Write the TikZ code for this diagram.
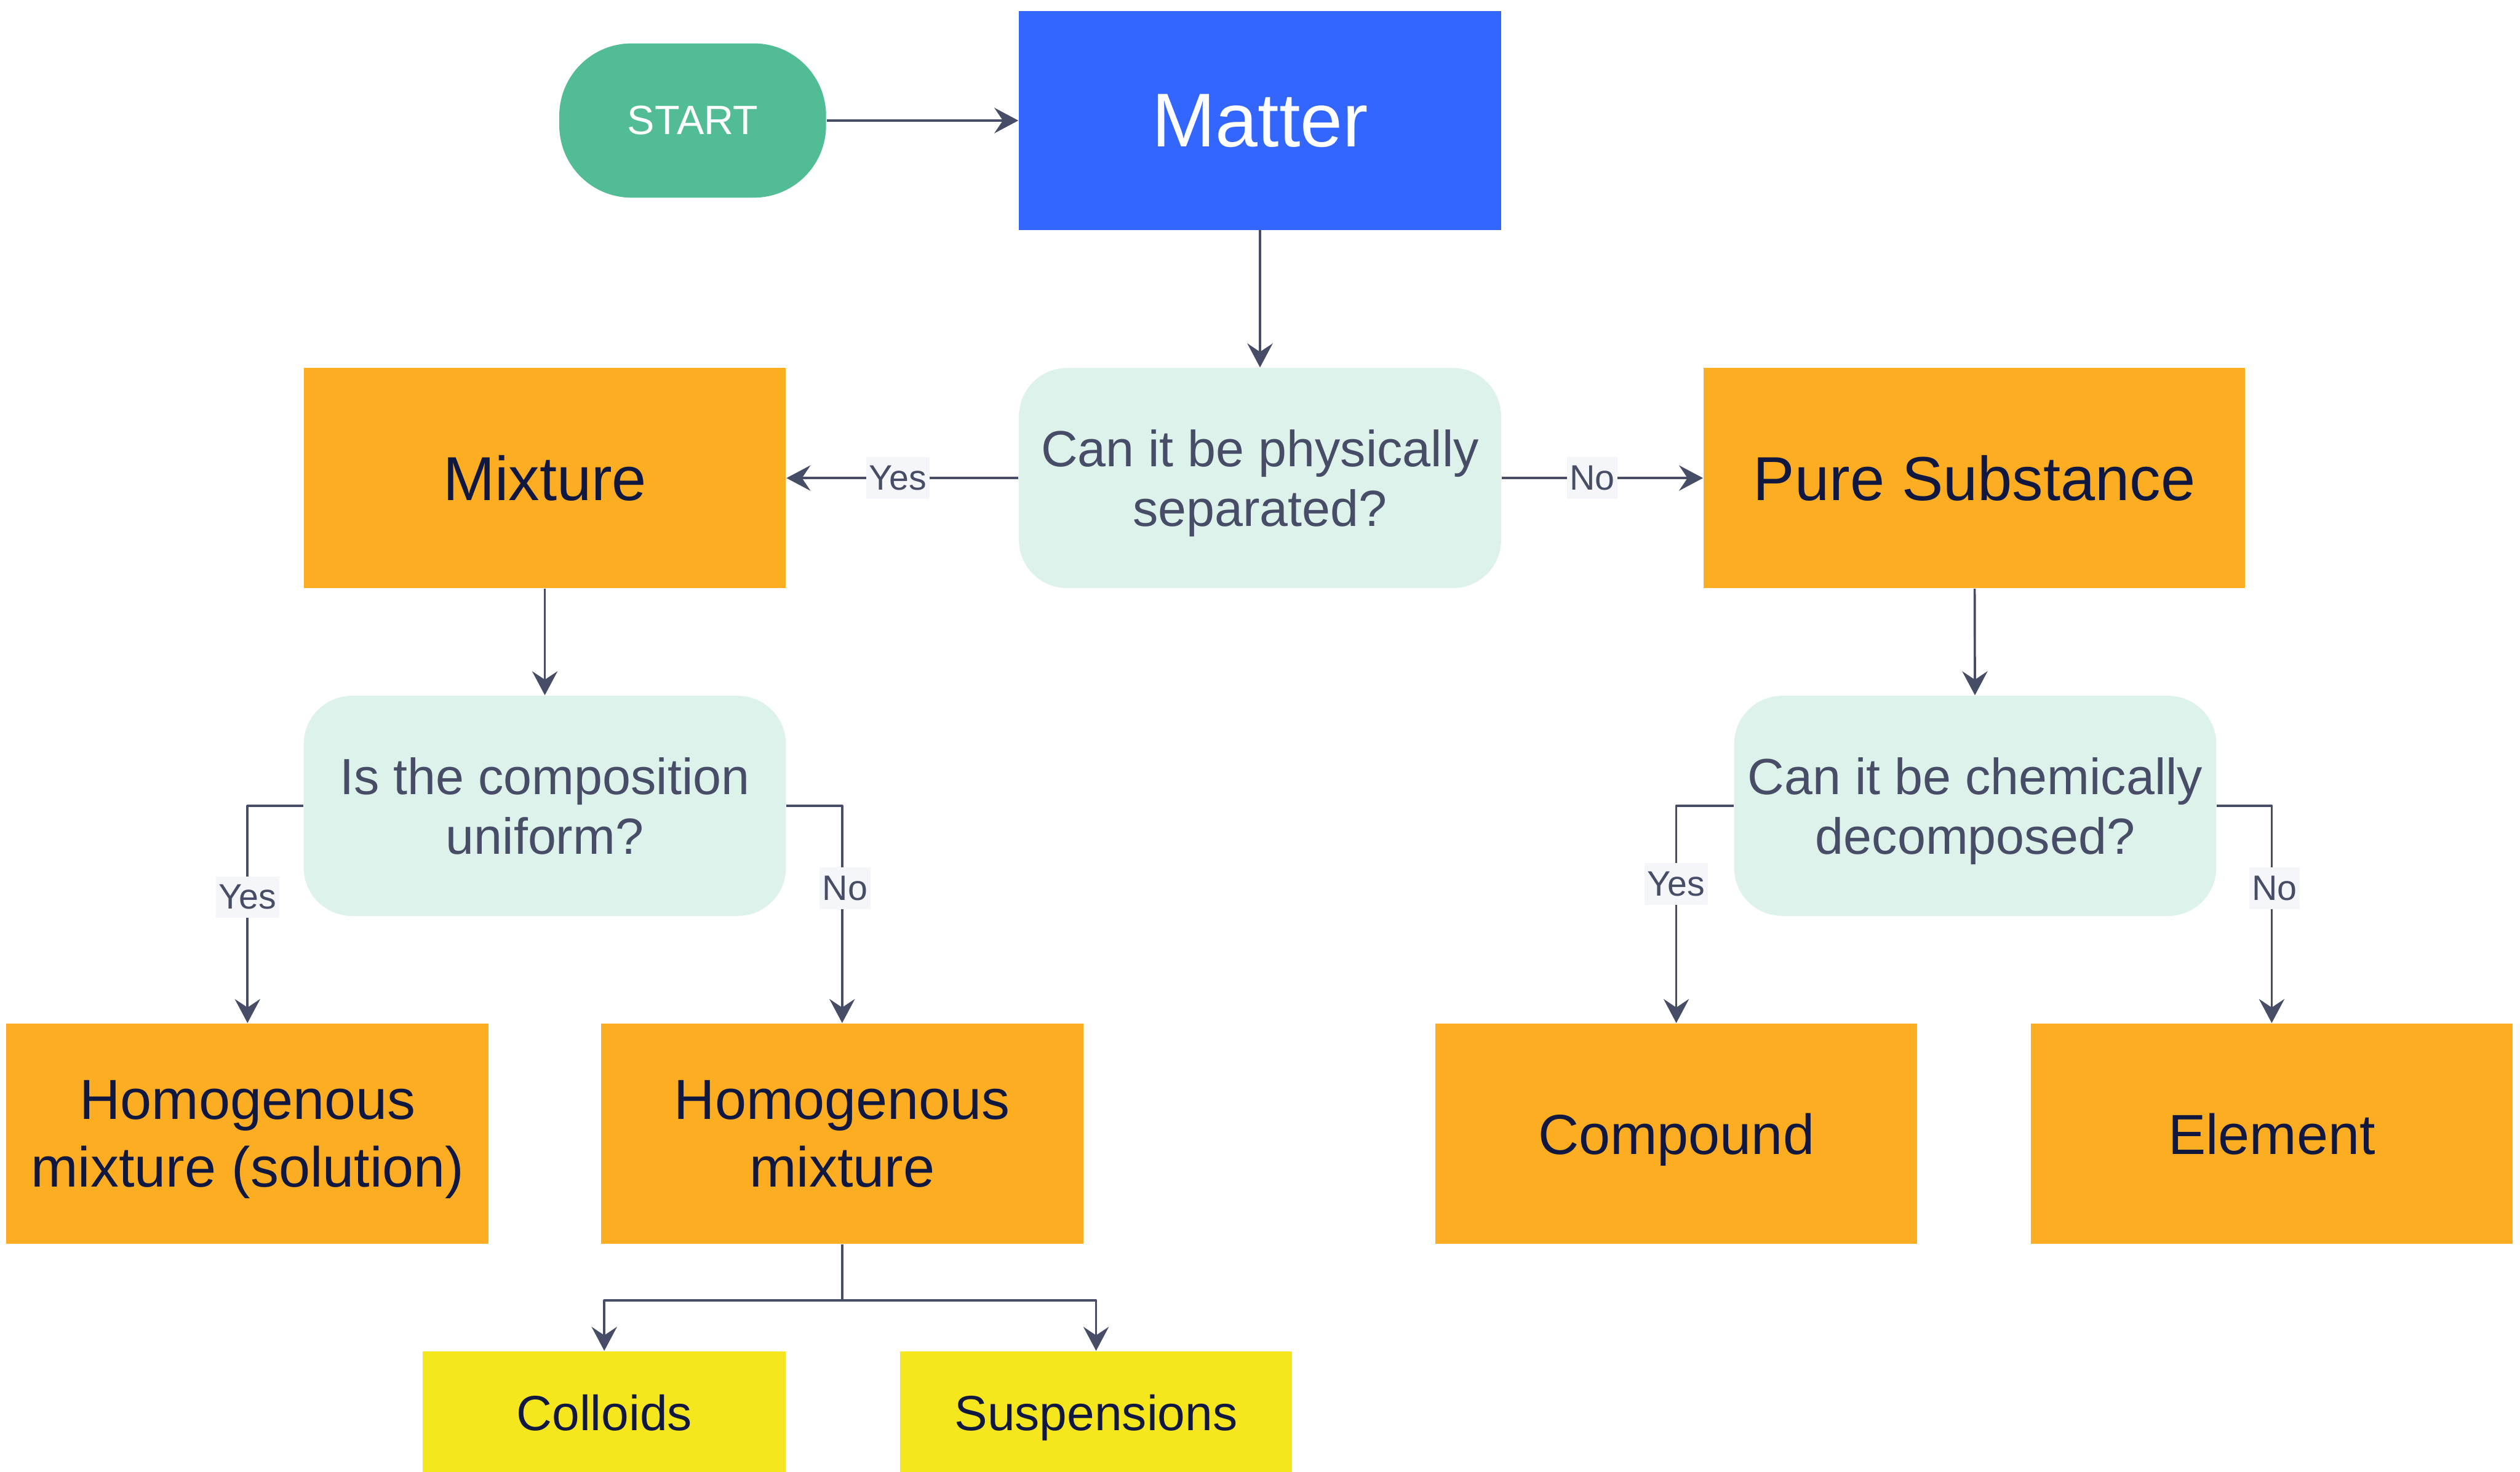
\documentclass[tikz,border=0pt]{standalone}
\usepackage{fontspec}
\setmainfont{Liberation Sans}
\usetikzlibrary{positioning,arrows.meta}
\definecolor{matterblue}{HTML}{3366FF}
\definecolor{startgreen}{HTML}{52BD94}
\definecolor{boxorange}{HTML}{FDAD22}
\definecolor{askmint}{HTML}{DCF2EA}
\definecolor{leafyellow}{HTML}{F6E61E}
\definecolor{textnavy}{HTML}{101840}
\definecolor{linegray}{HTML}{474D66}
\definecolor{tagbg}{HTML}{F4F6FA}
\begin{document}
\begin{tikzpicture}[line join=round, >={Stealth[length=8.5pt,width=9pt,inset=3pt]},
	box/.style={fill=boxorange, text=textnavy, minimum width=6cm, minimum height=2.74cm, inner sep=0pt, text depth=0pt, align=center, font=\fontsize{20}{24}\selectfont},
	ask/.style={fill=askmint, text=linegray, rounded corners=0.6cm, minimum width=6cm, minimum height=2.74cm, inner sep=0pt, text depth=0pt, align=center, font=\fontsize{18}{21}\selectfont},
	leaf/.style={fill=leafyellow, text=textnavy, minimum height=1.52cm, inner sep=0pt, text depth=0pt, font=\fontsize{17.5}{21}\selectfont},
	tag/.style={fill=tagbg, text=linegray, inner xsep=1pt, inner ysep=3pt, font=\fontsize{12.5}{15}\selectfont},
	link/.style={->, draw=linegray, line width=0.8pt}]
	\useasboundingbox (0,0) rectangle (31.36,-18.32);
	\node[fill=startgreen, text=white, rounded corners=0.9cm, minimum width=3.32cm, minimum height=1.92cm, inner sep=0pt, font=\fontsize{14.5}{17}\selectfont] (start) at (8.62,-1.5) {START};
	\node[box, fill=matterblue, text=white, minimum height=2.72cm, font=\fontsize{27}{31}\selectfont] (matter) at (15.68,-1.5) {Matter};
	\node[ask] (q1) at (15.68,-5.95) {Can it be physically\\separated?};
	\node[box, font=\fontsize{22}{26}\selectfont] (mixture) at (6.78,-5.95) {Mixture};
	\node[box, minimum width=6.74cm, font=\fontsize{22}{26}\selectfont] (pure) at (24.57,-5.95) {Pure Substance};
	\node[ask] (q2) at (6.78,-10.03) {Is the composition\\uniform?};
	\node[ask] (q3) at (24.58,-10.03) {Can it be chemically\\decomposed?};
	\node[box] (hms) at (3.08,-14.11) {Homogenous\\mixture (solution)};
	\node[box] (hm) at (10.48,-14.11) {Homogenous\\mixture};
	\node[box] (compound) at (20.86,-14.11) {Compound};
	\node[box] (element) at (28.27,-14.11) {Element};
	\node[leaf, minimum width=4.52cm] (colloids) at (7.52,-17.58) {Colloids};
	\node[leaf, minimum width=4.88cm] (susp) at (13.64,-17.58) {Suspensions};
	\coordinate[below=0.7cm of hm.south] (fork);

	\draw[link] (start) -- (matter);
	\draw[link] (matter) -- (q1);
	\draw[link] (q1.west) -- node[tag, pos=0.52]{Yes} (mixture.east);
	\draw[link] (q1.east) -- node[tag, pos=0.45]{No} (pure.west);
	\draw[link] (mixture) -- (q2);
	\draw[link] (pure) -- (q3);
	\draw[link] (q2.west) -| node[tag, pos=0.71]{Yes} (hms.north);
	\draw[link] (q2.east) -| node[tag, pos=0.69, xshift=1pt]{No} (hm.north);
	\draw[link] (q3.west) -| node[tag, pos=0.68]{Yes} (compound.north);
	\draw[link] (q3.east) -| node[tag, pos=0.69, xshift=1pt]{No} (element.north);
	\draw[linegray, line width=0.8pt] (hm.south) -- (fork);
	\draw[link] (fork) -| (colloids.north);
	\draw[link] (fork) -| (susp.north);
\end{tikzpicture}
\end{document}
